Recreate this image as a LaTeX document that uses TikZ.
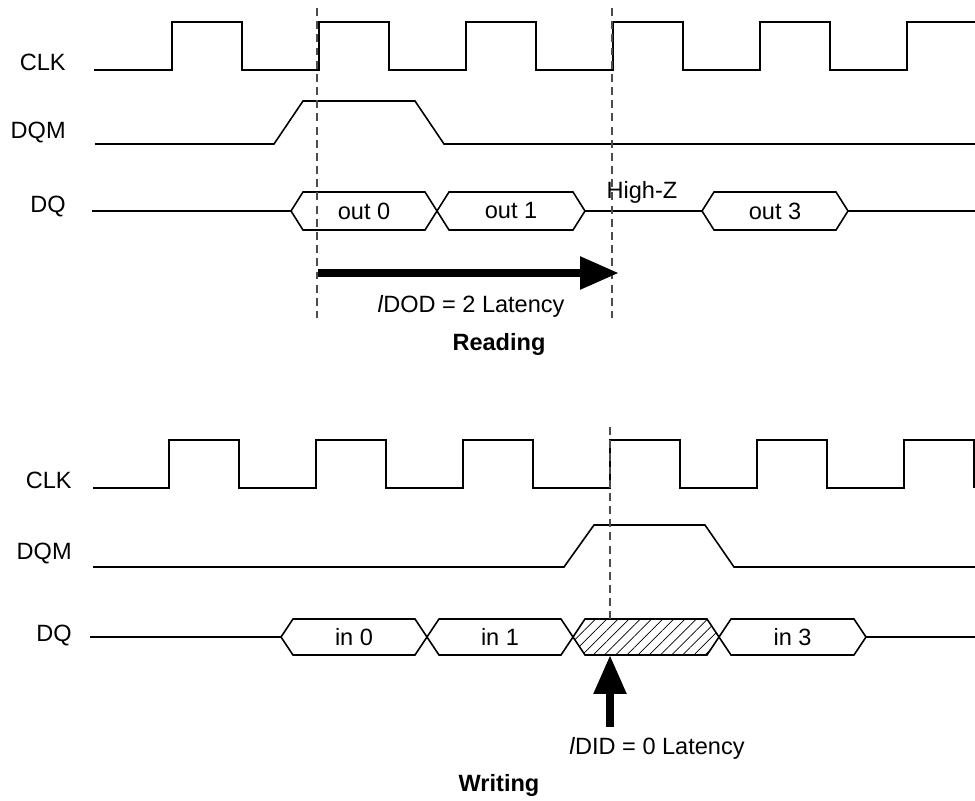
\documentclass[tikz,border=0pt]{standalone}
\usepackage{fontspec}
\setmainfont{Liberation Sans}
\usetikzlibrary{arrows.meta, patterns.meta}

\begin{document}
\begin{tikzpicture}[
    x=0.02cm, y=-0.02cm,
    every node/.style={font=\fontsize{13.4}{15}\selectfont},
    sig/.style={line width=0.9pt, line join=miter},
    guide/.style={dash pattern=on 4.5pt off 3pt, line width=0.7pt, black!70},
    fat/.style={-{Triangle[length=0.78cm, width=0.62cm]}, line width=0.17cm},
    sname/.style={anchor=east, inner sep=0pt},
    ttl/.style={font=\fontsize{13.4}{15}\selectfont\bfseries},
    hatch/.style={sig, pattern={Lines[angle=45, distance=4.5pt, line width=0.4pt]}},
]
\useasboundingbox (0,0) rectangle (975,801);

% ================================================================ top: reading
\node[sname] (clkR) at (66,62) {CLK};
\node[sname] (dqmR) at (66,133) {DQM};
\node[sname] (dqR) at (66,207) {DQ};

\draw[sig] (94,70) foreach \r in {172,319,466,613,760}{
    -- (\r,70) -- (\r,22) -- (\r+70,22) -- (\r+70,70) }
    -- (907,70) -- (907,22) -- (975,22);

\draw[sig] (95,144) -- (274,144) -- (303,101) -- (415,101) -- (444,144) -- (975,144);
\draw[line width=1.4pt] (303,101) -- (348,101);

\draw[sig] (92,211) -- (291,211) (585,211) -- (702,211) (848,211) -- (975,211);
\foreach \a/\b/\t/\n in {291/437/out 0/outA, 437/585/out 1/outB, 702/848/out 3/outD}{
    \draw[sig] (\a,211) -- (\a+12,192) -- (\b-12,192) -- (\b,211)
        -- (\b-12,230) -- (\a+12,230) -- cycle;
    \node (\n) at ({(\a+\b)/2},211) {\t};
}
\node (hiz) at (642,192) {High-Z};

\draw[guide] (317,8) -- (317,318);
\draw[guide] (612,8) -- (612,318);

% two clocks from the read command to data
\coordinate (rdA) at (318,273);
\coordinate (rdB) at (619,273);
\draw[fat] (rdA) -- (rdB);
\node (rdLat) at (471,306) {\textit{l}DOD = 2 Latency};
\node[ttl] (rdTtl) at (499,344) {Reading};

% ================================================================ bottom: writing
\node[sname] (clkW) at (72,480) {CLK};
\node[sname] (dqmW) at (72,554) {DQM};
\node[sname] (dqW) at (72,636) {DQ};

\draw[sig] (93,488) foreach \r in {169,316,463,610,757,904}{
    -- (\r,488) -- (\r,440) -- (\r+70,440) -- (\r+70,488) };

\draw[sig] (93,567) -- (564,567) -- (594,525) -- (705,525) -- (734,567) -- (975,567);
\draw[line width=1.4pt] (594,525) -- (639,525);

\draw[sig] (90,637) -- (281,637) (866,637) -- (975,637);
\foreach \a/\b/\t/\n in {281/427/in 0/inA, 427/573/in 1/inB, 719/866/in 3/inD}{
    \draw[sig] (\a,637) -- (\a+12,619) -- (\b-12,619) -- (\b,637)
        -- (\b-12,655) -- (\a+12,655) -- cycle;
    \node (\n) at ({(\a+\b)/2},637) {\t};
}
% masked word
\draw[hatch] (573,637) -- (585,619) -- (707,619) -- (719,637)
    -- (707,655) -- (585,655) -- cycle;

\draw[guide] (610,427) -- (610,619);

\coordinate (wrA) at (610,727);
\coordinate (wrB) at (610,655);
\draw[fat] (wrA) -- (wrB);
\node (wrLat) at (657,748) {\textit{l}DID = 0 Latency};
\node[ttl] (wrTtl) at (499,785) {Writing};

\end{tikzpicture}
\end{document}
